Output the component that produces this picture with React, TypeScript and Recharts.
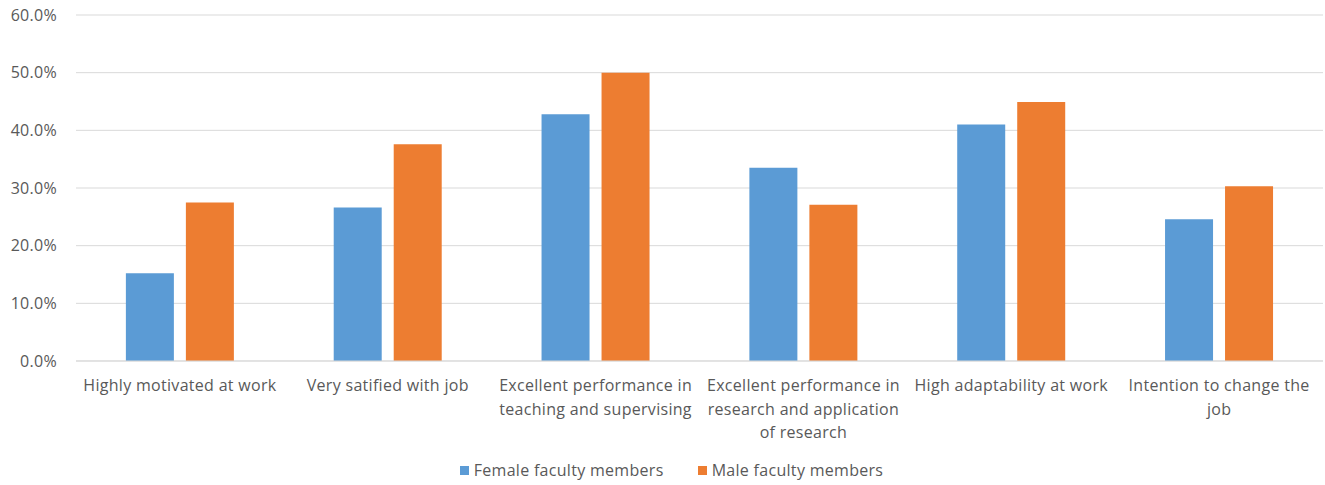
import React from "react";
import { BarChart, Bar, XAxis, YAxis, CartesianGrid, Legend } from "recharts";

const categories = [
  "Highly motivated at work",
  "Very satified with job",
  "Excellent performance in teaching and supervising",
  "Excellent performance in research and application of research",
  "High adaptability at work",
  "Intention to change the job",
];

const categoryLines: string[][] = [
  ["Highly motivated at work"],
  ["Very satified with job"],
  ["Excellent performance in", "teaching and supervising"],
  ["Excellent performance in", "research and application", "of research"],
  ["High adaptability at work"],
  ["Intention to change the", "job"],
];

const female = [15.2, 26.6, 42.8, 33.5, 41.0, 24.6];
const male = [27.5, 37.6, 50.0, 27.1, 44.9, 30.3];

const yTicks = [0, 10, 20, 30, 40, 50, 60];

const seriesNames = ["Female faculty members", "Male faculty members"];
const colors = ["#5B9BD5", "#ED7D31"];

const data = categories.map((c, i) => ({
  name: c,
  idx: i,
  female: female[i],
  male: male[i],
}));

const FONT = "'Open Sans', sans-serif";
const TEXT = "#595959";

const XTick = (props: any) => {
  const { x, y, payload } = props;
  const lines = categoryLines[payload.index] || [payload.value];
  return (
    <text
      x={x}
      y={y}
      textAnchor="middle"
      fill={TEXT}
      fontSize={16}
      fontFamily={FONT}
      letterSpacing={0.3}
    >
      {lines.map((l, i) => (
        <tspan key={i} x={x} dy={i === 0 ? 22 : 23.5}>
          {l}
        </tspan>
      ))}
    </text>
  );
};

const LegendContent = () => (
  <div
    style={{
      display: "flex",
      justifyContent: "center",
      alignItems: "center",
      height: 24,
      fontFamily: FONT,
      fontSize: 16,
      letterSpacing: 0.3,
      color: TEXT,
      paddingLeft: 20,
    }}
  >
    {seriesNames.map((n, i) => (
      <div
        key={n}
        style={{ display: "flex", alignItems: "center", marginRight: i === 0 ? 34 : 0 }}
      >
        <span
          style={{
            display: "inline-block",
            width: 9,
            height: 9,
            background: colors[i],
            marginRight: 5,
          }}
        />
        <span>{n}</span>
      </div>
    ))}
  </div>
);

export default function App() {
  return (
    <div style={{ position: "absolute", left: 0, top: 0, background: "#fff" }}>
      <BarChart
        width={1325}
        height={485}
        data={data}
        margin={{ top: 15, right: 2, left: 0, bottom: 3 }}
        barCategoryGap="24%"
        barGap={12}
      >
        <CartesianGrid vertical={false} stroke="#d9d9d9" strokeWidth={1} />
        <XAxis
          dataKey="name"
          tick={<XTick />}
          tickLine={false}
          axisLine={{ stroke: "#d9d9d9" }}
          height={97}
          interval={0}
        />
        <YAxis
          domain={[0, 60]}
          ticks={yTicks}
          tickFormatter={(v: number) => v.toFixed(1) + "%"}
          tick={{ fill: TEXT, fontSize: 16, fontFamily: FONT, letterSpacing: 0.3 }}
          tickLine={false}
          axisLine={false}
          width={76}
          tickMargin={13}
        />
        <Legend verticalAlign="bottom" content={<LegendContent />} height={24} />
        <Bar
          dataKey="female"
          name={seriesNames[0]}
          fill={colors[0]}
          isAnimationActive={false}
        />
        <Bar
          dataKey="male"
          name={seriesNames[1]}
          fill={colors[1]}
          isAnimationActive={false}
        />
      </BarChart>
    </div>
  );
}
